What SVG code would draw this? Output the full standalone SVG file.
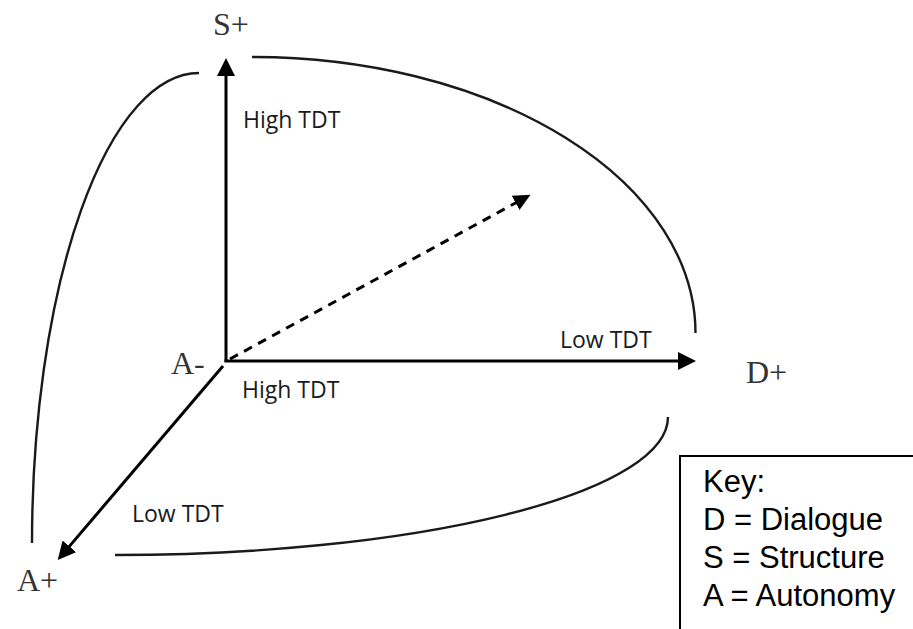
<svg xmlns="http://www.w3.org/2000/svg" width="913" height="629" viewBox="0 0 913 629">
  <defs>
    <marker id="arrow" markerUnits="userSpaceOnUse" markerWidth="18" markerHeight="18" refX="6" refY="9" orient="auto" viewBox="0 0 18 18">
      <path d="M0,0 L18,9 L0,18 z" fill="#000" stroke="none"/>
    </marker>
    <marker id="arrow-small" markerUnits="userSpaceOnUse" markerWidth="17" markerHeight="16" refX="5" refY="8" orient="auto" viewBox="0 0 17 16">
      <path d="M0,0 L17,8 L0,16 z" fill="#000" stroke="none"/>
    </marker>
    <style>
      .axis { stroke: #000; stroke-width: 3; fill: none; }
      .dashed { stroke: #000; stroke-width: 3; fill: none; stroke-dasharray: 9 7; }
      .curve { stroke: #1a1a1a; stroke-width: 2.4; fill: none; }
      .pole { font-family: "Liberation Serif", "Times New Roman", serif; font-size: 32px; fill: #333; }
      .tdt { font-family: "Open Sans", "Noto Sans", sans-serif; font-size: 23px; fill: #1a1a1a; }
      .key { font-family: "Liberation Sans", Arial, sans-serif; font-size: 31px; fill: #000; }
    </style>
  </defs>
  <rect width="913" height="629" fill="#fff"/>

  <g id="connectors">
    <path class="curve" d="M252,57 A443,276 0 0 1 695.5,333"/>
    <path class="curve" d="M199,73 A167,470 0 0 0 32,543"/>
    <path class="curve" d="M668,417 A553,138 0 0 1 115,555"/>
    <line class="axis" x1="226" y1="362" x2="226" y2="70" marker-end="url(#arrow)"/>
    <line class="axis" x1="224.5" y1="361" x2="684" y2="361" marker-end="url(#arrow)"/>
    <line class="axis" x1="223" y1="366" x2="65.5" y2="550.9" marker-end="url(#arrow)"/>
    <line class="dashed" x1="230" y1="359" x2="520" y2="200.5" marker-end="url(#arrow-small)"/>
  </g>

  <g id="node-s-plus"><text class="pole" x="213" y="35">S+</text></g>
  <g id="node-a-minus"><text class="pole" x="171" y="374">A-</text></g>
  <g id="node-d-plus"><text class="pole" x="746" y="383">D+</text></g>
  <g id="node-a-plus"><text class="pole" x="17" y="591">A+</text></g>

  <g id="label-high-tdt-vertical"><text class="tdt" x="243" y="128">High TDT</text></g>
  <g id="label-high-tdt-horizontal"><text class="tdt" x="242" y="398">High TDT</text></g>
  <g id="label-low-tdt-horizontal"><text class="tdt" x="560" y="348">Low TDT</text></g>
  <g id="label-low-tdt-diagonal"><text class="tdt" x="132" y="522">Low TDT</text></g>

  <g id="key">
    <polyline points="680,629 680,456 913,456" fill="none" stroke="#000" stroke-width="2"/>
    <text class="key" x="703" y="492">Key:</text>
    <text class="key" x="703" y="530">D = Dialogue</text>
    <text class="key" x="703" y="568">S = Structure</text>
    <text class="key" x="703" y="606">A = Autonomy</text>
  </g>
</svg>
